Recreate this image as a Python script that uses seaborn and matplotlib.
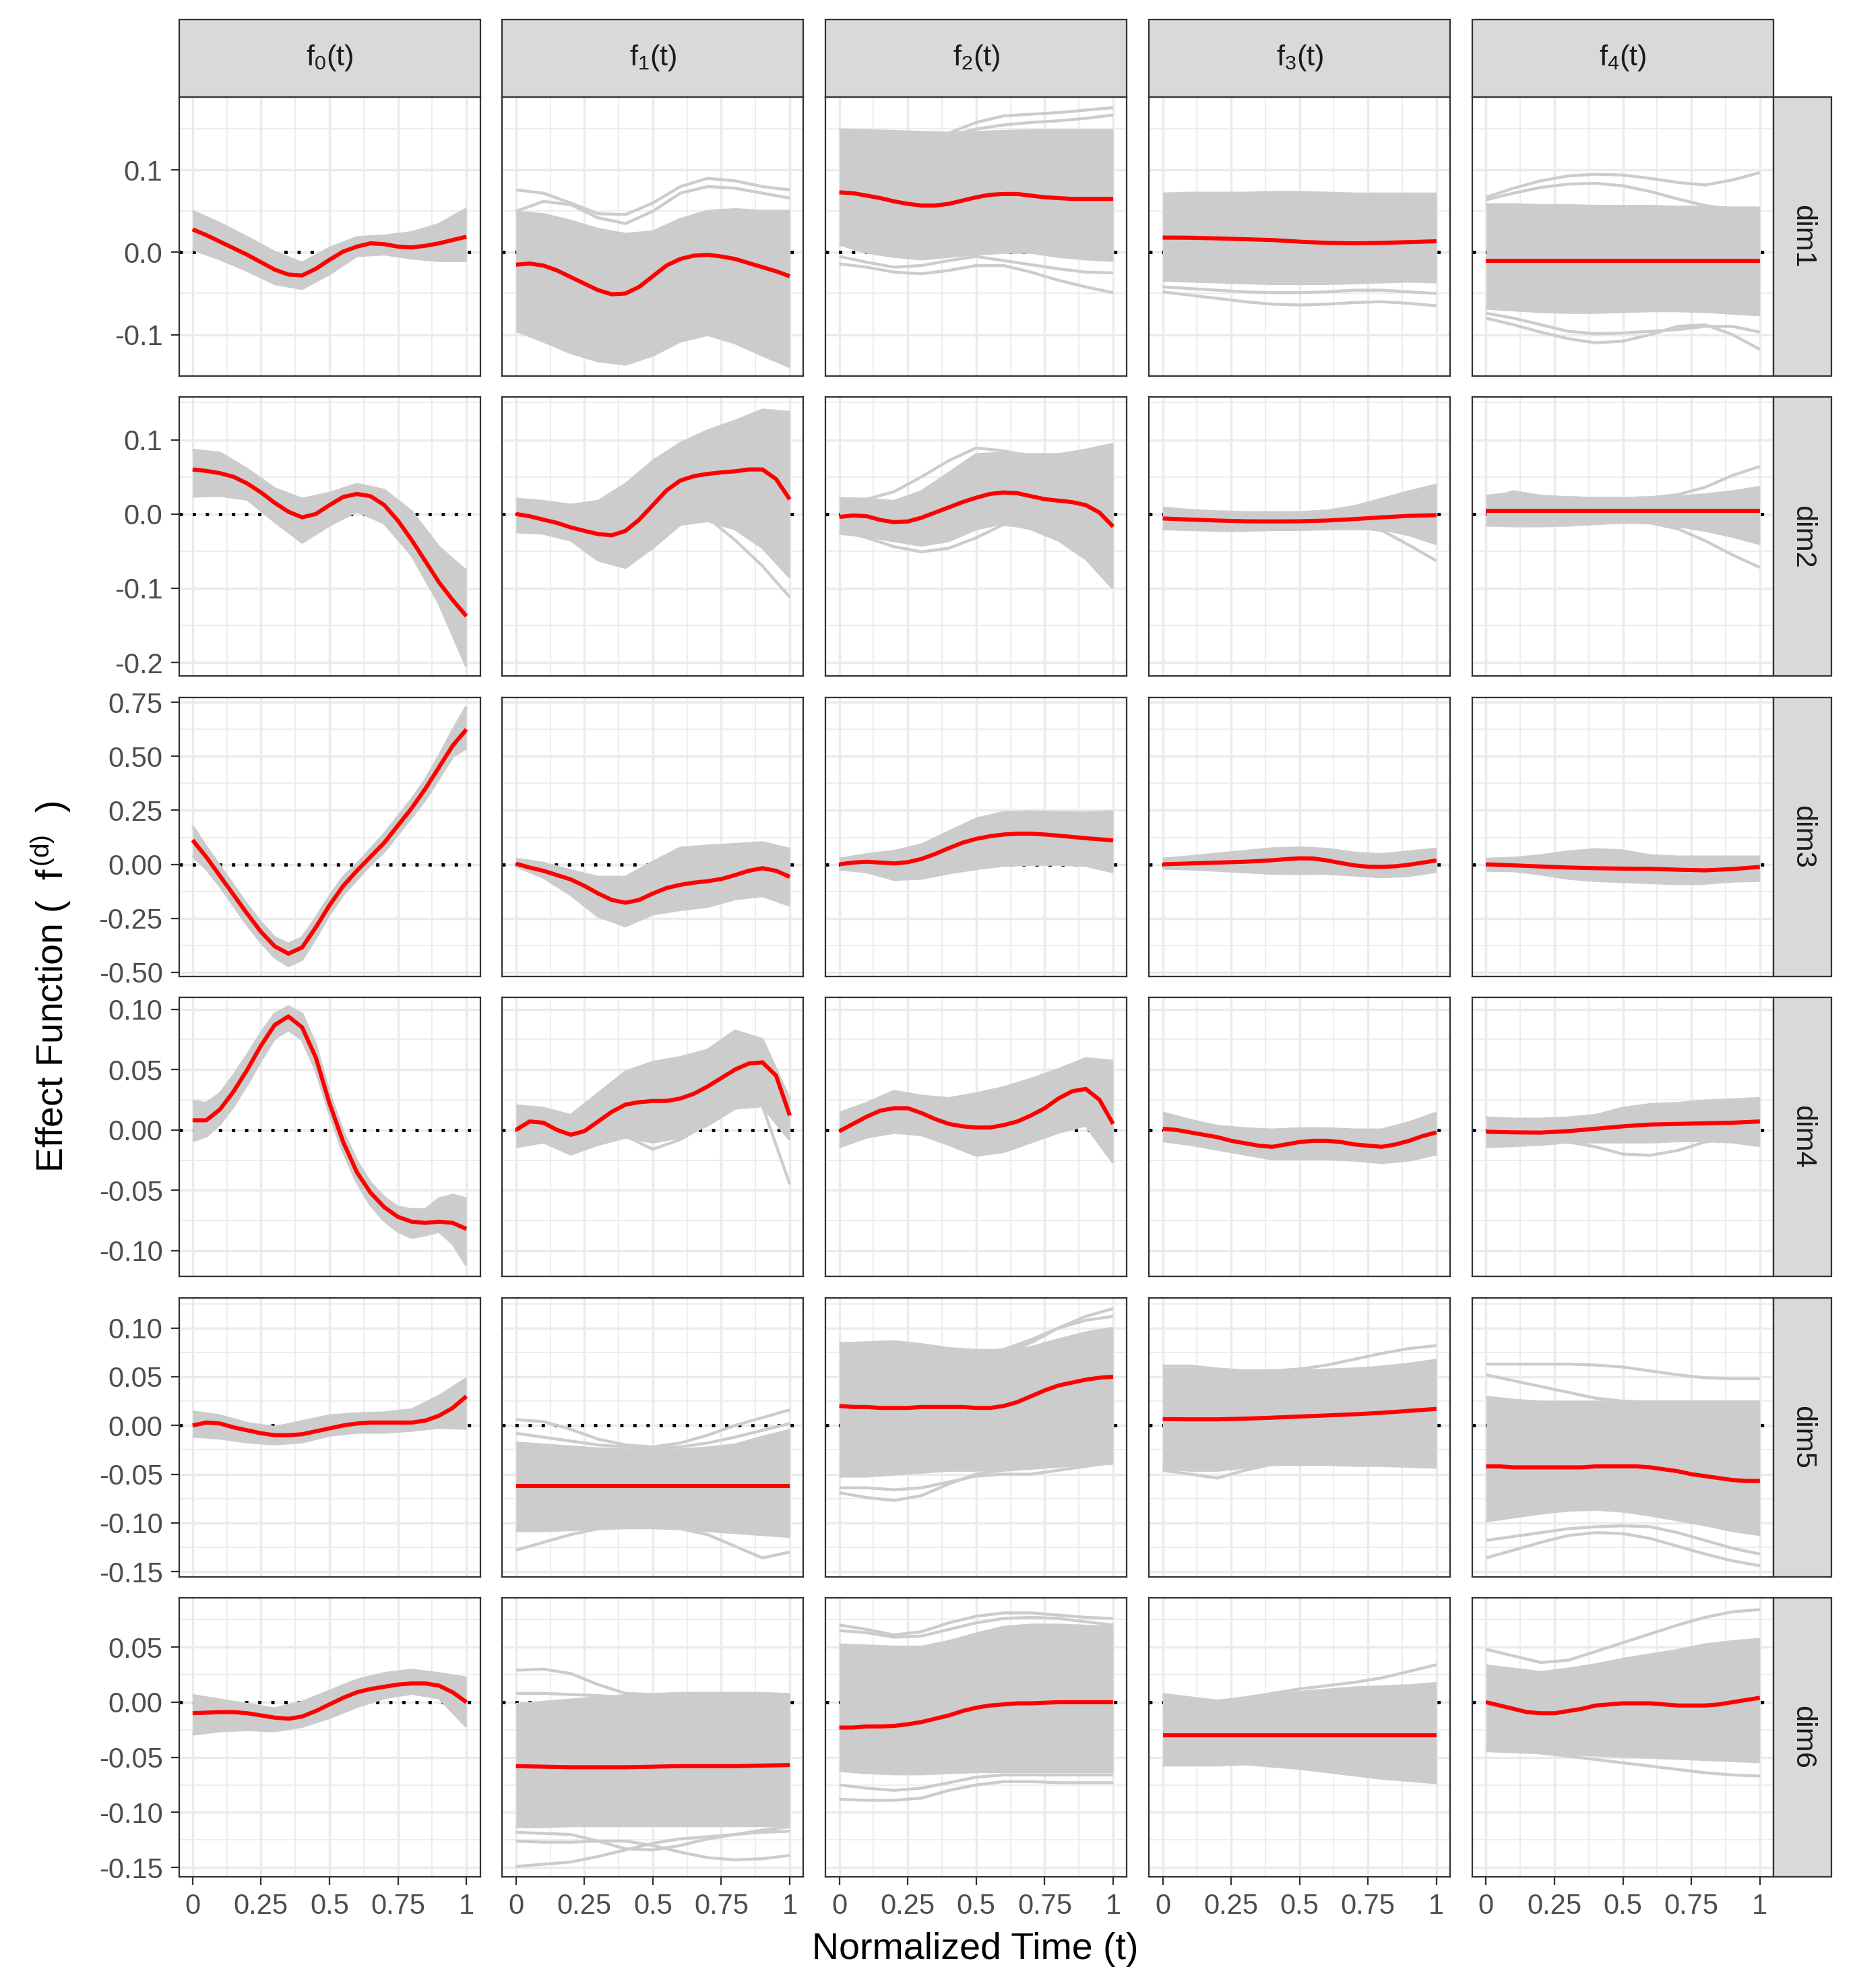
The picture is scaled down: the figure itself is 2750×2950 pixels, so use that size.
import numpy as np
import pandas as pd
import matplotlib
matplotlib.use("Agg")
import matplotlib.pyplot as plt
import seaborn as sns
from matplotlib.patches import Rectangle
from matplotlib.ticker import FixedLocator, FixedFormatter

# ---------------- data ----------------
dims = ["dim1", "dim2", "dim3", "dim4", "dim5", "dim6"]
funcs = ["f0", "f1", "f2", "f3", "f4"]
func_labels = [r"$f_0(t)$", r"$f_1(t)$", r"$f_2(t)$", r"$f_3(t)$", r"$f_4(t)$"]

x_ticks = [0, 0.25, 0.5, 0.75, 1]
x_tick_labels = ["0", "0.25", "0.5", "0.75", "1"]

dim1_yticks = [-0.1, 0.0, 0.1]
dim1_ylabels = ["-0.1", "0.0", "0.1"]
dim2_yticks = [-0.2, -0.1, 0.0, 0.1]
dim2_ylabels = ["-0.2", "-0.1", "0.0", "0.1"]
dim3_yticks = [-0.5, -0.25, 0.0, 0.25, 0.5, 0.75]
dim3_ylabels = ["-0.50", "-0.25", "0.00", "0.25", "0.50", "0.75"]
dim4_yticks = [-0.1, -0.05, 0.0, 0.05, 0.1]
dim4_ylabels = ["-0.10", "-0.05", "0.00", "0.05", "0.10"]
dim5_yticks = [-0.15, -0.1, -0.05, 0.0, 0.05, 0.1]
dim5_ylabels = ["-0.15", "-0.10", "-0.05", "0.00", "0.05", "0.10"]
dim6_yticks = [-0.15, -0.1, -0.05, 0.0, 0.05]
dim6_ylabels = ["-0.15", "-0.10", "-0.05", "0.00", "0.05"]

# ---- dim1 ----
dim1_f0_mean = [0.028, 0.021, 0.013, 0.005, -0.003, -0.012, -0.021, -0.027, -0.028, -0.020, -0.009,
                0.001, 0.007, 0.011, 0.010, 0.007, 0.006, 0.008, 0.011, 0.015, 0.019]
dim1_f0_hi = [0.050, 0.035, 0.018, 0.000, -0.013, 0.005, 0.018, 0.020, 0.024, 0.034, 0.053]
dim1_f0_lo = [0.004, -0.008, -0.022, -0.038, -0.044, -0.026, -0.004, -0.002, -0.007, -0.010, -0.010]

dim1_f1_mean = [-0.015, -0.0136, -0.016, -0.022, -0.030, -0.038, -0.046, -0.051, -0.050, -0.042, -0.029,
                -0.016, -0.008, -0.004, -0.003, -0.005, -0.008, -0.013, -0.018, -0.023, -0.029]
dim1_f1_hi = [0.049, 0.046, 0.038, 0.028, 0.022, 0.025, 0.040, 0.050, 0.052, 0.050, 0.050]
dim1_f1_lo = [-0.095, -0.108, -0.122, -0.132, -0.136, -0.125, -0.108, -0.100, -0.110, -0.125, -0.139]
dim1_f1_out = [[0.076, 0.072, 0.060, 0.047, 0.046, 0.060, 0.080, 0.090, 0.087, 0.080, 0.076],
               [0.050, 0.062, 0.058, 0.042, 0.035, 0.050, 0.072, 0.080, 0.078, 0.072, 0.066]]

dim1_f2_mean = [0.073, 0.072, 0.069, 0.066, 0.062, 0.059, 0.057, 0.057, 0.059, 0.063, 0.067,
                0.070, 0.071, 0.071, 0.069, 0.067, 0.066, 0.065, 0.065, 0.065, 0.065]
dim1_f2_hi = [0.149, 0.148, 0.147, 0.146, 0.145, 0.146, 0.147, 0.148, 0.148, 0.148, 0.148]
dim1_f2_lo = [0.010, 0.000, -0.005, -0.008, -0.005, -0.002, 0.000, 0.000, -0.005, -0.008, -0.010]
dim1_f2_out = [[0.140, 0.142, 0.143, 0.142, 0.145, 0.158, 0.166, 0.168, 0.170, 0.173, 0.176],
               [0.130, 0.135, 0.138, 0.140, 0.142, 0.150, 0.155, 0.158, 0.160, 0.163, 0.167],
               [-0.014, -0.018, -0.024, -0.026, -0.022, -0.016, -0.016, -0.024, -0.034, -0.042, -0.049],
               [-0.005, -0.012, -0.018, -0.016, -0.010, -0.005, -0.010, -0.015, -0.020, -0.024, -0.025]]

dim1_f3_mean = [0.018, 0.0178, 0.017, 0.016, 0.015, 0.013, 0.0115, 0.011, 0.0115, 0.0125, 0.0135]
dim1_f3_hi = [0.071, 0.072, 0.072, 0.072, 0.073, 0.073, 0.072, 0.071, 0.071, 0.071, 0.071]
dim1_f3_lo = [-0.034, -0.035, -0.036, -0.037, -0.038, -0.038, -0.038, -0.037, -0.036, -0.035, -0.036]
dim1_f3_out = [[-0.048, -0.052, -0.056, -0.060, -0.063, -0.064, -0.063, -0.061, -0.060, -0.062, -0.065],
               [-0.042, -0.044, -0.046, -0.048, -0.049, -0.049, -0.048, -0.046, -0.046, -0.048, -0.050]]

dim1_f4_mean = [-0.010, -0.010, -0.010, -0.010, -0.010, -0.010, -0.010, -0.010, -0.010, -0.010, -0.010]
dim1_f4_hi = [0.058, 0.058, 0.057, 0.057, 0.056, 0.056, 0.056, 0.055, 0.055, 0.054, 0.054]
dim1_f4_lo = [-0.068, -0.070, -0.072, -0.073, -0.073, -0.072, -0.071, -0.071, -0.072, -0.074, -0.076]
dim1_f4_out = [[0.067, 0.078, 0.087, 0.093, 0.095, 0.094, 0.090, 0.085, 0.082, 0.088, 0.097],
               [0.064, 0.072, 0.079, 0.083, 0.084, 0.081, 0.074, 0.065, 0.057, 0.052, 0.050],
               [-0.080, -0.088, -0.097, -0.105, -0.110, -0.108, -0.100, -0.090, -0.088, -0.100, -0.118],
               [-0.074, -0.080, -0.088, -0.096, -0.099, -0.098, -0.096, -0.094, -0.090, -0.090, -0.097]]

# ---- dim2 ----
dim2_f0_mean = [0.060, 0.058, 0.055, 0.050, 0.041, 0.029, 0.015, 0.003, -0.0045, 0.000, 0.012,
                0.023, 0.027, 0.024, 0.012, -0.009, -0.035, -0.0635, -0.092, -0.116, -0.1376]
dim2_f0_hi = [0.086, 0.082, 0.060, 0.034, 0.020, 0.028, 0.040, 0.032, 0.003, -0.045, -0.077]
dim2_f0_lo = [0.024, 0.025, 0.020, -0.010, -0.038, -0.015, 0.004, -0.012, -0.055, -0.120, -0.205]

dim2_f1_mean = [0.000, -0.003, -0.0076, -0.012, -0.018, -0.0227, -0.027, -0.0287, -0.0227, -0.0076, 0.012,
                0.0318, 0.045, 0.051, 0.054, 0.056, 0.0575, 0.060, 0.060, 0.047, 0.0197]
dim2_f1_hi = [0.020, 0.017, 0.012, 0.017, 0.040, 0.071, 0.095, 0.112, 0.125, 0.140, 0.137]
dim2_f1_lo = [-0.024, -0.026, -0.035, -0.062, -0.072, -0.045, -0.014, -0.009, -0.020, -0.045, -0.085]
dim2_f1_out = [[-0.020, -0.022, -0.030, -0.055, -0.068, -0.040, -0.005, -0.005, -0.035, -0.070, -0.112]]

dim2_f2_mean = [-0.004, -0.002, -0.003, -0.008, -0.011, -0.010, -0.005, 0.002, 0.009, 0.016, 0.022,
                0.027, 0.029, 0.028, 0.024, 0.020, 0.018, 0.016, 0.012, 0.002, -0.017]
dim2_f2_hi = [0.021, 0.020, 0.017, 0.030, 0.055, 0.080, 0.082, 0.080, 0.080, 0.085, 0.093]
dim2_f2_lo = [-0.026, -0.030, -0.036, -0.042, -0.036, -0.020, -0.012, -0.020, -0.035, -0.060, -0.100]
dim2_f2_out = [[0.015, 0.020, 0.030, 0.050, 0.072, 0.089, 0.085, 0.078, 0.080, 0.086, 0.094],
               [-0.022, -0.032, -0.044, -0.051, -0.046, -0.032, -0.014, -0.018, -0.030, -0.055, -0.095]]

dim2_f3_mean = [-0.006, -0.0075, -0.0088, -0.0098, -0.010, -0.0098, -0.0088, -0.0068, -0.0045, -0.0025, -0.0015]
dim2_f3_hi = [0.008, 0.005, 0.003, 0.002, 0.002, 0.002, 0.004, 0.010, 0.020, 0.030, 0.039]
dim2_f3_lo = [-0.020, -0.021, -0.022, -0.022, -0.021, -0.021, -0.020, -0.020, -0.020, -0.028, -0.040]
dim2_f3_out = [[-0.018, -0.019, -0.020, -0.020, -0.019, -0.019, -0.018, -0.018, -0.022, -0.042, -0.063]]

dim2_f4_mean = [0.0045, 0.0045, 0.0045, 0.0045, 0.0045, 0.0045, 0.0045, 0.0045, 0.0045, 0.0045, 0.0045]
dim2_f4_hi = [0.024, 0.028, 0.023, 0.022, 0.021, 0.021, 0.022, 0.023, 0.026, 0.030, 0.036]
dim2_f4_lo = [-0.015, -0.016, -0.016, -0.015, -0.013, -0.011, -0.012, -0.016, -0.022, -0.030, -0.040]
dim2_f4_out = [[0.020, 0.030, 0.024, 0.022, 0.021, 0.021, 0.022, 0.026, 0.036, 0.052, 0.064],
               [-0.012, -0.014, -0.014, -0.013, -0.012, -0.011, -0.012, -0.020, -0.036, -0.055, -0.072]]

# ---- dim3 ----
dim3_f0_mean = [0.112, 0.034, -0.054, -0.142, -0.230, -0.313, -0.380, -0.414, -0.385, -0.292, -0.190,
                -0.100, -0.030, 0.035, 0.100, 0.180, 0.260, 0.350, 0.450, 0.550, 0.625]
dim3_f0_hi = [0.175, 0.08, -0.01, -0.10, -0.19, -0.27, -0.34, -0.37, -0.34, -0.25, -0.15,
              -0.06, 0.00, 0.07, 0.14, 0.22, 0.30, 0.39, 0.50, 0.62, 0.73]
dim3_f0_lo = [0.04, -0.02, -0.10, -0.19, -0.28, -0.36, -0.43, -0.47, -0.44, -0.34, -0.23,
              -0.14, -0.07, 0.00, 0.06, 0.14, 0.22, 0.30, 0.40, 0.50, 0.54]

dim3_f1_mean = [0.003, -0.015, -0.030, -0.050, -0.070, -0.100, -0.135, -0.165, -0.178, -0.165, -0.135,
                -0.110, -0.095, -0.085, -0.078, -0.068, -0.050, -0.030, -0.018, -0.030, -0.058]
dim3_f1_hi = [0.024, 0.005, -0.030, -0.060, -0.060, 0.010, 0.075, 0.085, 0.092, 0.100, 0.070]
dim3_f1_lo = [-0.008, -0.060, -0.140, -0.240, -0.285, -0.230, -0.210, -0.195, -0.160, -0.145, -0.190]

dim3_f2_mean = [0.000, 0.008, 0.012, 0.008, 0.004, 0.010, 0.025, 0.048, 0.075, 0.100, 0.118,
                0.130, 0.138, 0.142, 0.142, 0.138, 0.133, 0.127, 0.121, 0.116, 0.111]
dim3_f2_hi = [0.024, 0.045, 0.060, 0.090, 0.150, 0.210, 0.240, 0.243, 0.240, 0.238, 0.245]
dim3_f2_lo = [-0.022, -0.035, -0.070, -0.065, -0.040, -0.020, -0.005, 0.000, 0.000, -0.005, -0.035]

dim3_f3_mean = [0.000, 0.002, 0.004, 0.006, 0.008, 0.010, 0.012, 0.015, 0.019, 0.024, 0.028,
                0.027, 0.018, 0.006, -0.005, -0.011, -0.012, -0.009, -0.002, 0.008, 0.018]
dim3_f3_hi = [0.024, 0.035, 0.048, 0.060, 0.072, 0.076, 0.070, 0.052, 0.045, 0.058, 0.070]
dim3_f3_lo = [-0.018, -0.022, -0.028, -0.035, -0.042, -0.043, -0.042, -0.050, -0.058, -0.052, -0.033]

dim3_f4_mean = [0.000, -0.005, -0.010, -0.015, -0.018, -0.020, -0.021, -0.025, -0.028, -0.022, -0.012]
dim3_f4_hi = [0.024, 0.028, 0.040, 0.058, 0.068, 0.062, 0.040, 0.034, 0.034, 0.034, 0.034]
dim3_f4_lo = [-0.028, -0.030, -0.045, -0.065, -0.075, -0.080, -0.085, -0.090, -0.088, -0.078, -0.075]

# ---- dim4 ----
dim4_f0_mean = [0.008, 0.008, 0.017, 0.032, 0.050, 0.070, 0.087, 0.094, 0.085, 0.060, 0.022,
                -0.010, -0.035, -0.052, -0.064, -0.072, -0.076, -0.077, -0.076, -0.077, -0.082]
dim4_f0_hi = [0.024, 0.022, 0.030, 0.045, 0.062, 0.080, 0.096, 0.102, 0.096, 0.070, 0.030,
              -0.002, -0.026, -0.044, -0.056, -0.064, -0.066, -0.066, -0.057, -0.054, -0.057]
dim4_f0_lo = [-0.009, -0.005, 0.005, 0.020, 0.038, 0.058, 0.076, 0.083, 0.075, 0.050, 0.014,
              -0.018, -0.043, -0.062, -0.075, -0.084, -0.089, -0.087, -0.084, -0.094, -0.112]

dim4_f1_mean = [0.000, 0.007, 0.006, 0.000, -0.004, -0.001, 0.007, 0.015, 0.021, 0.023, 0.024,
                0.024, 0.026, 0.030, 0.036, 0.043, 0.050, 0.055, 0.056, 0.045, 0.012]
dim4_f1_hi = [0.020, 0.018, 0.012, 0.030, 0.048, 0.056, 0.060, 0.066, 0.082, 0.075, 0.025]
dim4_f1_lo = [-0.014, -0.010, -0.020, -0.012, -0.006, -0.010, -0.006, 0.004, 0.018, 0.020, -0.008]
dim4_f1_out = [[-0.005, -0.004, -0.012, -0.010, -0.005, -0.016, -0.008, 0.005, 0.022, 0.020, -0.045]]

dim4_f2_mean = [-0.001, 0.005, 0.011, 0.016, 0.018, 0.018, 0.014, 0.009, 0.005, 0.003, 0.002,
                0.002, 0.004, 0.007, 0.012, 0.018, 0.026, 0.032, 0.034, 0.025, 0.005]
dim4_f2_hi = [0.014, 0.022, 0.032, 0.028, 0.026, 0.030, 0.035, 0.042, 0.050, 0.059, 0.057]
dim4_f2_lo = [-0.014, -0.006, -0.002, -0.004, -0.012, -0.021, -0.018, -0.010, -0.002, 0.004, -0.027]

dim4_f3_mean = [0.001, 0.000, -0.002, -0.004, -0.006, -0.009, -0.011, -0.013, -0.014, -0.012, -0.010,
                -0.009, -0.009, -0.010, -0.012, -0.013, -0.014, -0.012, -0.009, -0.005, -0.002]
dim4_f3_hi = [0.014, 0.008, 0.003, 0.001, 0.000, 0.001, 0.001, 0.000, 0.000, 0.006, 0.014]
dim4_f3_lo = [-0.009, -0.012, -0.016, -0.020, -0.024, -0.024, -0.024, -0.025, -0.027, -0.025, -0.020]

dim4_f4_mean = [-0.0015, -0.002, -0.0022, -0.001, 0.001, 0.003, 0.0045, 0.005, 0.0055, 0.006, 0.007]
dim4_f4_hi = [0.010, 0.009, 0.009, 0.010, 0.012, 0.018, 0.021, 0.022, 0.024, 0.025, 0.026]
dim4_f4_lo = [-0.014, -0.013, -0.012, -0.010, -0.010, -0.010, -0.010, -0.009, -0.009, -0.010, -0.013]
dim4_f4_out = [[-0.010, -0.010, -0.009, -0.010, -0.014, -0.020, -0.021, -0.017, -0.010, -0.006, -0.005]]

# ---- dim5 ----
dim5_f0_mean = [0.000, 0.003, 0.002, -0.002, -0.005, -0.008, -0.010, -0.010, -0.009, -0.006, -0.003,
                0.000, 0.002, 0.003, 0.003, 0.003, 0.003, 0.005, 0.010, 0.018, 0.030]
dim5_f0_hi = [0.014, 0.010, 0.002, -0.002, 0.004, 0.010, 0.012, 0.013, 0.016, 0.030, 0.048]
dim5_f0_lo = [-0.011, -0.013, -0.017, -0.019, -0.017, -0.010, -0.007, -0.007, -0.005, -0.002, -0.003]

dim5_f1_mean = [-0.062, -0.062, -0.062, -0.062, -0.062, -0.062, -0.062, -0.062, -0.062, -0.062, -0.062]
dim5_f1_hi = [-0.018, -0.020, -0.022, -0.024, -0.025, -0.025, -0.025, -0.023, -0.020, -0.012, -0.005]
dim5_f1_lo = [-0.108, -0.108, -0.107, -0.106, -0.105, -0.105, -0.106, -0.108, -0.110, -0.112, -0.114]
dim5_f1_out = [[0.006, 0.004, -0.004, -0.014, -0.020, -0.022, -0.018, -0.010, 0.000, 0.008, 0.016],
               [-0.008, -0.012, -0.016, -0.020, -0.022, -0.023, -0.022, -0.018, -0.012, -0.005, 0.002],
               [-0.128, -0.120, -0.112, -0.106, -0.104, -0.104, -0.106, -0.112, -0.124, -0.136, -0.130]]

dim5_f2_mean = [0.020, 0.019, 0.019, 0.018, 0.018, 0.018, 0.019, 0.019, 0.019, 0.019, 0.018,
                0.018, 0.020, 0.024, 0.030, 0.036, 0.041, 0.044, 0.047, 0.049, 0.050]
dim5_f2_hi = [0.084, 0.085, 0.086, 0.083, 0.079, 0.077, 0.077, 0.080, 0.088, 0.095, 0.100]
dim5_f2_lo = [-0.052, -0.052, -0.050, -0.048, -0.046, -0.046, -0.045, -0.043, -0.040, -0.038, -0.037]
dim5_f2_out = [[-0.069, -0.074, -0.077, -0.072, -0.060, -0.050, -0.046, -0.044, -0.042, -0.040, -0.039],
               [-0.064, -0.064, -0.066, -0.064, -0.058, -0.052, -0.050, -0.050, -0.046, -0.042, -0.038],
               [0.080, 0.082, 0.080, 0.076, 0.074, 0.073, 0.075, 0.085, 0.100, 0.112, 0.120],
               [0.078, 0.080, 0.082, 0.080, 0.076, 0.075, 0.078, 0.088, 0.100, 0.108, 0.112]]

dim5_f3_mean = [0.0065, 0.0063, 0.0063, 0.007, 0.008, 0.0092, 0.0103, 0.0115, 0.013, 0.015, 0.017]
dim5_f3_hi = [0.058, 0.058, 0.057, 0.056, 0.056, 0.056, 0.057, 0.058, 0.060, 0.063, 0.067]
dim5_f3_lo = [-0.044, -0.046, -0.046, -0.043, -0.040, -0.040, -0.040, -0.041, -0.041, -0.042, -0.043]
dim5_f3_out = [[0.061, 0.061, 0.058, 0.056, 0.056, 0.058, 0.062, 0.068, 0.074, 0.079, 0.082],
               [-0.046, -0.050, -0.054, -0.046, -0.040, -0.038, -0.038, -0.038, -0.038, -0.038, -0.038]]

dim5_f4_mean = [-0.042, -0.042, -0.043, -0.043, -0.043, -0.043, -0.043, -0.043, -0.042, -0.042, -0.042,
                -0.042, -0.043, -0.045, -0.047, -0.050, -0.052, -0.054, -0.056, -0.057, -0.057]
dim5_f4_hi = [0.029, 0.026, 0.024, 0.024, 0.024, 0.024, 0.024, 0.024, 0.024, 0.024, 0.024]
dim5_f4_lo = [-0.098, -0.094, -0.090, -0.087, -0.086, -0.088, -0.092, -0.097, -0.102, -0.108, -0.112]
dim5_f4_out = [[0.063, 0.063, 0.063, 0.063, 0.062, 0.060, 0.056, 0.052, 0.049, 0.048, 0.048],
               [0.052, 0.046, 0.040, 0.034, 0.028, 0.025, 0.024, 0.024, 0.024, 0.024, 0.024],
               [-0.136, -0.128, -0.120, -0.113, -0.110, -0.111, -0.116, -0.124, -0.132, -0.139, -0.144],
               [-0.118, -0.114, -0.110, -0.106, -0.104, -0.103, -0.104, -0.110, -0.118, -0.126, -0.132]]

# ---- dim6 ----
dim6_f0_mean = [-0.010, -0.0095, -0.009, -0.009, -0.010, -0.012, -0.014, -0.015, -0.013, -0.008, -0.002,
                0.004, 0.009, 0.012, 0.014, 0.016, 0.017, 0.017, 0.015, 0.009, 0.000]
dim6_f0_hi = [0.006, 0.002, -0.002, -0.006, 0.000, 0.010, 0.020, 0.026, 0.029, 0.026, 0.022]
dim6_f0_lo = [-0.029, -0.026, -0.025, -0.026, -0.022, -0.014, -0.004, 0.004, 0.008, 0.004, -0.022]

dim6_f1_mean = [-0.058, -0.0585, -0.059, -0.059, -0.059, -0.0585, -0.058, -0.058, -0.058, -0.0575, -0.057]
dim6_f1_hi = [-0.002, 0.000, 0.002, 0.004, 0.006, 0.007, 0.008, 0.008, 0.008, 0.008, 0.007]
dim6_f1_lo = [-0.113, -0.113, -0.112, -0.112, -0.112, -0.112, -0.112, -0.112, -0.112, -0.112, -0.112]
dim6_f1_out = [[0.029, 0.030, 0.026, 0.016, 0.008, 0.007, 0.006, 0.006, 0.006, 0.006, 0.005],
               [0.008, 0.008, 0.007, 0.006, 0.004, 0.002, 0.004, 0.006, 0.007, 0.006, 0.004],
               [-0.149, -0.147, -0.145, -0.140, -0.134, -0.128, -0.124, -0.122, -0.120, -0.118, -0.117],
               [-0.126, -0.127, -0.127, -0.126, -0.126, -0.130, -0.136, -0.141, -0.143, -0.142, -0.139],
               [-0.118, -0.119, -0.120, -0.126, -0.133, -0.134, -0.130, -0.124, -0.120, -0.116, -0.113]]

dim6_f2_mean = [-0.023, -0.023, -0.022, -0.022, -0.0215, -0.020, -0.018, -0.015, -0.012, -0.008, -0.005,
                -0.003, -0.002, -0.001, -0.001, -0.0005, 0.0, 0.0, 0.0, 0.0, 0.0]
dim6_f2_hi = [0.052, 0.051, 0.050, 0.050, 0.055, 0.062, 0.068, 0.070, 0.070, 0.069, 0.068]
dim6_f2_lo = [-0.062, -0.064, -0.065, -0.065, -0.064, -0.063, -0.063, -0.063, -0.063, -0.063, -0.063]
dim6_f2_out = [[0.070, 0.066, 0.061, 0.064, 0.072, 0.078, 0.081, 0.081, 0.079, 0.077, 0.076],
               [0.065, 0.063, 0.059, 0.060, 0.066, 0.072, 0.076, 0.077, 0.076, 0.073, 0.070],
               [-0.088, -0.089, -0.089, -0.087, -0.080, -0.075, -0.072, -0.072, -0.073, -0.073, -0.073],
               [-0.075, -0.078, -0.080, -0.078, -0.073, -0.068, -0.066, -0.066, -0.066, -0.066, -0.066]]

dim6_f3_mean = [-0.030, -0.030, -0.030, -0.030, -0.030, -0.030, -0.030, -0.030, -0.030, -0.030, -0.030]
dim6_f3_hi = [0.005, 0.003, 0.000, 0.003, 0.006, 0.009, 0.011, 0.013, 0.014, 0.015, 0.017]
dim6_f3_lo = [-0.057, -0.057, -0.057, -0.056, -0.058, -0.060, -0.063, -0.066, -0.069, -0.071, -0.073]
dim6_f3_out = [[0.007, 0.004, 0.001, 0.004, 0.008, 0.012, 0.015, 0.018, 0.022, 0.028, 0.034]]

dim6_f4_mean = [0.000, -0.003, -0.006, -0.009, -0.010, -0.010, -0.008, -0.006, -0.003, -0.002, -0.001,
                -0.001, -0.001, -0.002, -0.003, -0.003, -0.003, -0.002, 0.000, 0.002, 0.004]
dim6_f4_hi = [0.033, 0.030, 0.027, 0.030, 0.034, 0.039, 0.043, 0.047, 0.052, 0.055, 0.057]
dim6_f4_lo = [-0.044, -0.045, -0.046, -0.047, -0.048, -0.049, -0.050, -0.051, -0.052, -0.053, -0.054]
dim6_f4_out = [[0.048, 0.042, 0.036, 0.038, 0.046, 0.054, 0.062, 0.070, 0.077, 0.082, 0.084],
               [-0.042, -0.044, -0.046, -0.049, -0.052, -0.055, -0.058, -0.061, -0.064, -0.066, -0.067]]

# ---------------- build long table ----------------
G = globals()
rows = []
for d in dims:
    for f in funcs:
        series = {"mean": G[f"{d}_{f}_mean"], "lo": G[f"{d}_{f}_lo"], "hi": G[f"{d}_{f}_hi"]}
        for k, o in enumerate(G.get(f"{d}_{f}_out", [])):
            series[f"out{k}"] = o
        for kind, vals in series.items():
            tt = np.linspace(0, 1, len(vals))
            for ti, v in zip(tt, vals):
                rows.append((d, f, kind, ti, v))
df = pd.DataFrame(rows, columns=["dim", "func", "kind", "t", "value"])

# ---------------- style ----------------
plt.rcParams["font.family"] = ["Liberation Sans", "DejaVu Sans"]
plt.rcParams["mathtext.fontset"] = "custom"
plt.rcParams["mathtext.rm"] = "Liberation Sans"
plt.rcParams["mathtext.it"] = "Liberation Sans"
plt.rcParams["mathtext.bf"] = "Liberation Sans:bold"

GREY = "#CCCCCC"
W, H, DPI = 2750, 2950, 250


def draw_panel(data, **kws):
    ax = plt.gca()
    ax.axhline(0, color="black", lw=1.4, ls=(0, (1, 3)), zorder=1.5)
    lo = data[data.kind == "lo"].sort_values("t")
    hi = data[data.kind == "hi"].sort_values("t")
    ax.fill_between(lo.t.values, lo.value.values, hi.value.values, color=GREY, lw=0, zorder=2)
    lines = data[~data.kind.isin(["mean"])]
    sns.lineplot(data=lines, x="t", y="value", units="kind", estimator=None, color=GREY,
                 lw=1.25, ax=ax, zorder=2.1, solid_capstyle="butt")
    sns.lineplot(data=data[data.kind == "mean"], x="t", y="value", estimator=None, color="red",
                 lw=1.75, ax=ax, zorder=3, solid_capstyle="butt")


g = sns.FacetGrid(df, row="dim", col="func", row_order=dims, col_order=funcs,
                  sharex=True, sharey=False, height=11.8 / 6, aspect=(11 / 5) / (11.8 / 6),
                  despine=False)
g.map_dataframe(draw_panel)
g.set_titles(template="")
fig = g.figure
fig.set_size_inches(W / DPI, H / DPI)

ylims = [(-0.1504, 0.1889), (-0.2184, 0.1573), (-0.519, 0.7735),
         (-0.1214, 0.1097), (-0.1552, 0.1312), (-0.1584, 0.0947)]
row_ticks = [(dim1_yticks, dim1_ylabels), (dim2_yticks, dim2_ylabels), (dim3_yticks, dim3_ylabels),
             (dim4_yticks, dim4_ylabels), (dim5_yticks, dim5_ylabels), (dim6_yticks, dim6_ylabels)]

pw, ph = 447, 414
strip_h, strip_w = 115, 86
for r in range(6):
    for c in range(5):
        ax = g.axes[r, c]
        left = 265.5 + 479.9 * c
        top = 144 + 445.4 * r
        ax.set_position([left / W, 1 - (top + ph) / H, pw / W, ph / H])
        ax.set_xlim(-0.05, 1.05)
        ax.set_ylim(*ylims[r])
        ax.set_xlabel("")
        ax.set_ylabel("")
        ax.set_facecolor("white")
        ax.set_axisbelow(True)
        ax.xaxis.set_major_locator(FixedLocator(x_ticks))
        ax.xaxis.set_major_formatter(FixedFormatter(x_tick_labels))
        ax.xaxis.set_minor_locator(FixedLocator([0.125, 0.375, 0.625, 0.875]))
        yt, yl = row_ticks[r]
        ax.yaxis.set_major_locator(FixedLocator(yt))
        ax.yaxis.set_major_formatter(FixedFormatter(yl))
        step = yt[1] - yt[0]
        ax.yaxis.set_minor_locator(FixedLocator([yt[0] - step / 2] + [v + step / 2 for v in yt]))
        ax.grid(which="major", color="#EBEBEB", lw=1.0)
        ax.grid(which="minor", color="#EBEBEB", lw=0.5)
        for sp in ax.spines.values():
            sp.set_color("#333333")
            sp.set_linewidth(0.65)
            sp.set_zorder(5)
        ax.tick_params(which="minor", length=0)
        ax.tick_params(which="major", length=3.4, width=0.65, color="#333333",
                       labelcolor="#4D4D4D", labelsize=12, pad=3.5)
        ax.tick_params(axis="x", bottom=(r == 5), labelbottom=(r == 5))
        ax.tick_params(axis="y", left=(c == 0), labelleft=(c == 0))
        if r == 0:
            ax.add_patch(Rectangle((0, 1), 1, strip_h / ph, transform=ax.transAxes, clip_on=False,
                                   facecolor="#D9D9D9", edgecolor="#333333", lw=0.65, zorder=6))
            ax.text(0.5, 1 + strip_h / 2 / ph, func_labels[c], transform=ax.transAxes,
                    ha="center", va="center", fontsize=12.5, color="#1A1A1A", zorder=7)
        if c == 4:
            ax.add_patch(Rectangle((1, 0), strip_w / pw, 1, transform=ax.transAxes, clip_on=False,
                                   facecolor="#D9D9D9", edgecolor="#333333", lw=0.65, zorder=6))
            ax.text(1 + strip_w / 2 / pw, 0.5, dims[r], transform=ax.transAxes, rotation=-90,
                    ha="center", va="center", fontsize=12.5, color="#1A1A1A", zorder=7)

fig.text(1447 / W, 1 - 2893 / H, "Normalized Time (t)", ha="center", va="center",
         fontsize=16, color="black")
fig.text(76 / W, 1 - 1464 / H, r"Effect Function (  $f^{(d)}$  )", ha="center", va="center",
         rotation=90, fontsize=16, color="black")

fig.savefig("out.png", dpi=DPI, facecolor="white")
